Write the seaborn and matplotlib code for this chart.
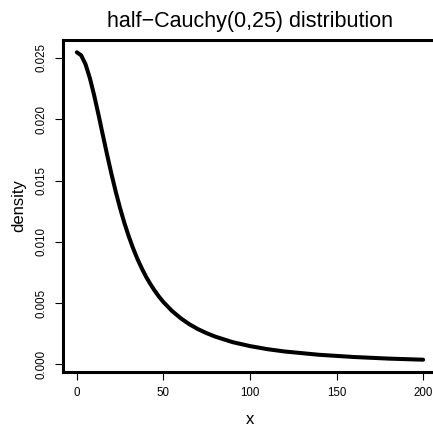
import matplotlib
matplotlib.use("Agg")
import matplotlib.pyplot as plt
import seaborn as sns
import pandas as pd

# Density of the half-Cauchy(0, 25) distribution, sampled along x
x_vals = [0, 2.5, 5, 7.5, 10, 12.5, 15, 17.5, 20, 22.5, 25, 27.5, 30, 32.5,
          35, 37.5, 40, 42.5, 45, 47.5, 50, 55, 60, 65, 70, 75, 80, 90, 100,
          110, 120, 140, 160, 180, 200]
density_vals = [0.02546, 0.02521, 0.02449, 0.02336, 0.02195, 0.02037, 0.01872,
                0.01709, 0.01553, 0.01407, 0.01273, 0.01152, 0.01044, 0.00947,
                0.00860, 0.00784, 0.00715, 0.00655, 0.00601, 0.00552, 0.00509,
                0.00436, 0.00377, 0.00328, 0.00288, 0.00255, 0.00227, 0.00182,
                0.00150, 0.00125, 0.00106, 0.00079, 0.00061, 0.00048, 0.00039]
x_ticks = [0, 50, 100, 150, 200]
y_ticks = [0.000, 0.005, 0.010, 0.015, 0.020, 0.025]
y_tick_labels = ["0.000", "0.005", "0.010", "0.015", "0.020", "0.025"]

df = pd.DataFrame({"x": x_vals, "density": density_vals})

sns.set_theme(style="white")
plt.rcParams["font.family"] = ["Liberation Sans", "DejaVu Sans"]

fig = plt.figure(figsize=(4.33, 4.26), dpi=100)
W, H = 433, 426
ax = fig.add_axes([63 / W, 1 - 372 / H, (437 - 63) / W, (372 - 40) / H])

sns.lineplot(data=df, x="x", y="density", ax=ax, color="black", linewidth=2.9,
             solid_capstyle="round", solid_joinstyle="round")

# R-style 4% padding around the data range
xr = max(x_vals) - min(x_vals)
yr = max(density_vals) - min(density_vals)
ax.set_xlim(min(x_vals) - 0.04 * xr, max(x_vals) + 0.04 * xr)
ax.set_ylim(min(density_vals) - 0.04 * yr, max(density_vals) + 0.04 * yr)

ax.set_xticks(x_ticks)
ax.set_xticklabels([str(t) for t in x_ticks])
ax.set_yticks(y_ticks)
ax.set_yticklabels(y_tick_labels, rotation=90, va="center")
ax.tick_params(axis="both", which="both", direction="out", length=6, width=0.8,
               color="black", labelsize=8.3, labelcolor="black", pad=5,
               bottom=True, left=True)

for side in ["left", "bottom", "top"]:
    ax.spines[side].set_visible(True)
    ax.spines[side].set_color("black")
    ax.spines[side].set_linewidth(2.2)
ax.spines["right"].set_visible(False)

ax.set_xlabel("x", fontsize=12, color="black", labelpad=9)
ax.set_ylabel("density", fontsize=12, color="black", labelpad=7)
ax.set_title("half\u2212Cauchy(0,25) distribution", fontsize=15.5,
             color="black", pad=9)

fig.savefig("out.png", dpi=100)
